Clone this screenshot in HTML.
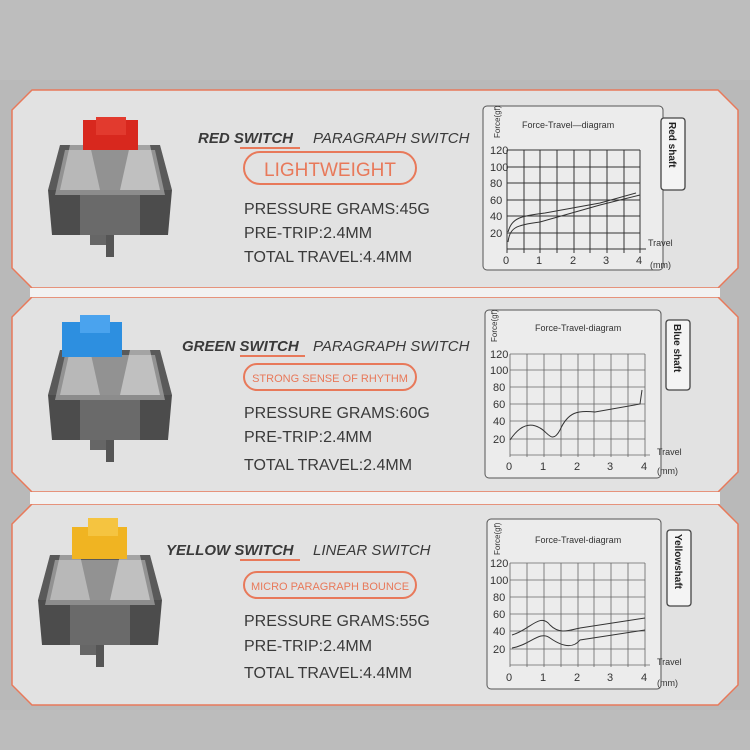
<!DOCTYPE html>
<html><head><meta charset="utf-8"><style>
body{margin:0;background:#b8b8b8}
svg{display:block}
text{font-family:"Liberation Sans",sans-serif}
</style></head><body>
<svg width="750" height="750" viewBox="0 0 750 750">
<rect width="750" height="750" fill="#b9b9b9"/>
<rect x="0" y="0" width="750" height="80" fill="#bdbdbd"/>
<rect x="0" y="710" width="750" height="40" fill="#bcbcbc"/>
<g stroke="#e8795a" stroke-width="1.5" fill="#e2e2e2">
<polygon points="32,90 718,90 738,110 738,268 718,288 32,288 12,268 12,110"/>
<polygon points="32,297 718,297 738,317 738,472 718,492 32,492 12,472 12,317"/>
<polygon points="32,504 718,504 738,524 738,685 718,705 32,705 12,685 12,524"/>
</g>
<rect x="30" y="288" width="690" height="9" fill="#f2f2f2"/>
<rect x="30" y="492" width="690" height="12" fill="#f2f2f2"/>

<!-- switches -->
<defs>
<g id="sw">
<polygon points="-50,40 50,40 62,85 -62,85" fill="#5a5a5a"/>
<polygon points="-62,85 62,85 58,130 -58,130" fill="#4c4c4c"/>
<polygon points="-45,45 45,45 55,90 -55,90" fill="#b8b8b8" opacity="0.6"/>
<rect x="-30" y="90" width="60" height="40" fill="#6a6a6a"/>
<rect x="-4" y="130" width="8" height="22" fill="#555"/>
<rect x="-20" y="130" width="16" height="10" fill="#666"/>
<polygon points="-40,40 -20,40 -10,85 -50,85" fill="#ddd" opacity="0.5"/>
<polygon points="20,40 40,40 50,85 10,85" fill="#eee" opacity="0.5"/>
</g>
</defs>
<use href="#sw" x="110" y="105"/>
<rect x="83" y="120" width="55" height="30" fill="#d8281e"/><rect x="96" y="117" width="30" height="18" fill="#e23a2e"/>
<use href="#sw" x="110" y="310"/>
<rect x="62" y="322" width="60" height="35" fill="#2d8fe0"/><rect x="80" y="315" width="30" height="18" fill="#4aa3ee"/>
<use href="#sw" x="100" y="515"/>
<rect x="72" y="527" width="55" height="32" fill="#f0b422"/><rect x="88" y="518" width="30" height="18" fill="#f5c440"/>

<!-- texts -->
<g fill="#3a3a3a" font-style="italic">
<text x="198" y="143" font-size="15" font-weight="bold">RED SWITCH</text>
<text x="313" y="143" font-size="15">PARAGRAPH SWITCH</text>
<text x="182" y="351" font-size="15" font-weight="bold">GREEN SWITCH</text>
<text x="313" y="351" font-size="15">PARAGRAPH SWITCH</text>
<text x="166" y="555" font-size="15" font-weight="bold">YELLOW SWITCH</text>
<text x="313" y="555" font-size="15">LINEAR SWITCH</text>
</g>
<g stroke="#e8795a" stroke-width="2"><line x1="240" y1="148" x2="300" y2="148"/><line x1="240" y1="356" x2="305" y2="356"/><line x1="240" y1="560" x2="300" y2="560"/></g>
<g fill="none" stroke="#e8795a" stroke-width="2">
<rect x="244" y="152" width="172" height="32" rx="16"/>
<rect x="244" y="364" width="172" height="26" rx="13"/>
<rect x="244" y="572" width="172" height="26" rx="13"/>
</g>
<g fill="#e8795a" text-anchor="middle">
<text x="330" y="176" font-size="19">LIGHTWEIGHT</text>
<text x="330" y="382" font-size="11">STRONG SENSE OF RHYTHM</text>
<text x="330" y="590" font-size="11">MICRO PARAGRAPH BOUNCE</text>
</g>
<g fill="#3a3a3a" font-size="16">
<text x="244" y="214">PRESSURE GRAMS:45G</text>
<text x="244" y="238">PRE-TRIP:2.4MM</text>
<text x="244" y="262">TOTAL TRAVEL:4.4MM</text>
<text x="244" y="418">PRESSURE GRAMS:60G</text>
<text x="244" y="442">PRE-TRIP:2.4MM</text>
<text x="244" y="470">TOTAL TRAVEL:2.4MM</text>
<text x="244" y="626">PRESSURE GRAMS:55G</text>
<text x="244" y="651">PRE-TRIP:2.4MM</text>
<text x="244" y="678">TOTAL TRAVEL:4.4MM</text>
</g>

<!-- charts -->
<g fill="#ececec" stroke="#555" stroke-width="1">
<rect x="483" y="106" width="180" height="164" rx="4"/>
<rect x="485" y="310" width="176" height="168" rx="4"/>
<rect x="487" y="519" width="174" height="170" rx="4"/>
</g>
<g fill="#f4f4f4" stroke="#444" stroke-width="1.3">
<rect x="661" y="118" width="24" height="72" rx="3"/>
<rect x="666" y="320" width="24" height="70" rx="3"/>
<rect x="667" y="530" width="24" height="76" rx="3"/>
</g>
<g font-size="10" font-weight="bold" fill="#222">
<text transform="translate(669,122) rotate(90)">Red shaft</text>
<text transform="translate(674,324) rotate(90)">Blue shaft</text>
<text transform="translate(675,534) rotate(90)">Yellowshaft</text>
</g>
<g font-size="9" fill="#333">
<text x="522" y="128">Force-Travel—diagram</text>
<text x="535" y="331">Force-Travel-diagram</text>
<text x="535" y="543">Force-Travel-diagram</text>
<text x="648" y="246">Travel</text><text x="650" y="268">(mm)</text>
<text x="657" y="455">Travel</text><text x="657" y="474">(mm)</text>
<text x="657" y="665">Travel</text><text x="657" y="686">(mm)</text>
<text transform="translate(500,138) rotate(-90)" font-size="8">Force(gf)</text>
<text transform="translate(497,342) rotate(-90)" font-size="8">Force(gf)</text>
<text transform="translate(500,555) rotate(-90)" font-size="8">Force(gf)</text>
</g>

<!-- chart 1 grid -->
<g stroke="#333" stroke-width="1" fill="none">
<path d="M507,150 H640 M507,167 H640 M507,183 H640 M507,200 H640 M507,216 H640 M507,233 H640 M507,249 H646"/>
<path d="M507,150 V253 M524,150 V253 M540,150 V253 M557,150 V253 M574,150 V253 M590,150 V253 M607,150 V253 M624,150 V253 M640,150 V253"/>
<path d="M508,242 C510,228 515,225 540,222 L600,205 L640,195"/>
<path d="M508,232 C512,218 520,216 545,213 L600,203 L636,193"/>
</g>
<g font-size="11" fill="#333"><text x="490" y="154">120</text><text x="490" y="171">100</text><text x="490" y="187">80</text><text x="490" y="204">60</text><text x="490" y="220">40</text><text x="490" y="237">20</text>
<text x="503" y="264">0</text><text x="536" y="264">1</text><text x="570" y="264">2</text><text x="603" y="264">3</text><text x="636" y="264">4</text></g>

<!-- chart 2 -->
<g stroke="#666" stroke-width="0.8" fill="none">
<path d="M510,354 H645 M510,370 H645 M510,387 H645 M510,404 H645 M510,421 H645 M510,439 H645 M510,455 H650"/>
<path d="M510,354 V457 M527,354 V457 M544,354 V457 M561,354 V457 M578,354 V457 M594,354 V457 M611,354 V457 M628,354 V457 M645,354 V457"/>
</g>
<path d="M510,440 C520,425 530,422 540,428 C548,432 552,445 560,430 C568,412 578,410 595,412 L640,404 L642,390" stroke="#333" fill="none"/>
<g font-size="11" fill="#333"><text x="490" y="358">120</text><text x="490" y="374">100</text><text x="493" y="391">80</text><text x="493" y="408">60</text><text x="493" y="425">40</text><text x="493" y="443">20</text>
<text x="506" y="470">0</text><text x="540" y="470">1</text><text x="574" y="470">2</text><text x="607" y="470">3</text><text x="641" y="470">4</text></g>

<!-- chart 3 -->
<g stroke="#666" stroke-width="0.8" fill="none">
<path d="M510,563 H645 M510,580 H645 M510,597 H645 M510,614 H645 M510,631 H645 M510,649 H645 M510,665 H650"/>
<path d="M510,563 V667 M527,563 V667 M544,563 V667 M561,563 V667 M578,563 V667 M594,563 V667 M611,563 V667 M628,563 V667 M645,563 V667"/>
</g>
<path d="M512,635 C530,630 540,612 550,625 C560,635 570,630 580,628 L645,618" stroke="#333" fill="none"/>
<path d="M512,648 C530,645 540,630 550,638 C560,645 572,650 580,640 L645,630" stroke="#333" fill="none"/>
<g font-size="11" fill="#333"><text x="490" y="567">120</text><text x="490" y="584">100</text><text x="493" y="601">80</text><text x="493" y="618">60</text><text x="493" y="635">40</text><text x="493" y="653">20</text>
<text x="506" y="681">0</text><text x="540" y="681">1</text><text x="574" y="681">2</text><text x="607" y="681">3</text><text x="641" y="681">4</text></g>
</svg>
</body></html>
